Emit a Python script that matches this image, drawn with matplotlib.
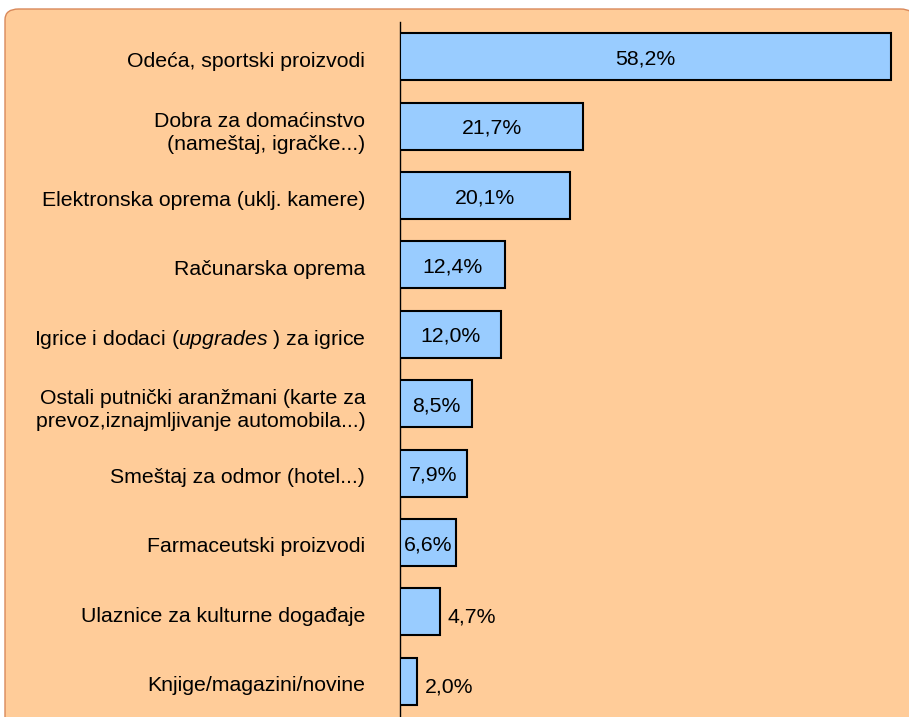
import matplotlib
matplotlib.use("Agg")
import matplotlib.pyplot as plt
from matplotlib.patches import FancyBboxPatch
from matplotlib.transforms import ScaledTranslation

plt.rcParams['font.family'] = ['Liberation Sans', 'DejaVu Sans']
plt.rcParams['mathtext.fontset'] = 'custom'
plt.rcParams['mathtext.rm'] = 'Liberation Sans'
plt.rcParams['mathtext.it'] = 'Liberation Sans:italic'

categories = [
    "Odeća, sportski proizvodi",
    "Dobra za domaćinstvo\n(nameštaj, igračke...)",
    "Elektronska oprema (uklj. kamere)",
    "Računarska oprema",
    r"Igrice i dodaci ($\mathit{upgrades}$ ) za igrice",
    "Ostali putnički aranžmani (karte za\nprevoz,iznajmljivanje automobila...)",
    "Smeštaj za odmor (hotel...)",
    "Farmaceutski proizvodi",
    "Ulaznice za kulturne događaje",
    "Knjige/magazini/novine",
]
values = [58.2, 21.7, 20.1, 12.4, 12.0, 8.5, 7.9, 6.6, 4.7, 2.0]
value_labels = ["58,2%", "21,7%", "20,1%", "12,4%", "12,0%", "8,5%", "7,9%", "6,6%", "4,7%", "2,0%"]

W, H = 909, 717
FS = 15.3
fig = plt.figure(figsize=(W / 100, H / 100), dpi=100)
fig.patch.set_facecolor('white')

bg = FancyBboxPatch((5 / W, -0.05), 1.0, (H - 9) / H + 0.05,
                    boxstyle="round,pad=0,rounding_size=0.015",
                    transform=fig.transFigure, facecolor='#FFCC99',
                    edgecolor='#D9895A', linewidth=1.0, zorder=-10)
fig.patches.append(bg)

ax = fig.add_axes([400 / W, 1 - 716 / H, (906 - 400) / W, (716 - 22) / H])
ax.set_facecolor('none')
ax.set_zorder(5)

ypos = list(range(len(categories)))
ax.barh(ypos, values, height=0.68, color='#99CCFF', edgecolor='black', linewidth=1.5, zorder=3)
ax.set_ylim(len(categories) - 0.5, -0.5)
ax.set_xlim(0, 60)

ax.set_yticks(ypos)
ax.set_yticklabels(categories, fontsize=FS, multialignment='right', linespacing=1.27)
ax.tick_params(axis='y', length=0, pad=25)
shift = ScaledTranslation(0, -2.5 / 100, fig.dpi_scale_trans)
for lbl in ax.get_yticklabels():
    lbl.set_transform(lbl.get_transform() + shift)
ax.set_xticks([])
for s in ['top', 'right', 'bottom']:
    ax.spines[s].set_visible(False)
ax.spines['left'].set_linewidth(1.0)
ax.spines['left'].set_color('black')

for y, v, lab in zip(ypos, values, value_labels):
    if v >= 5:
        ax.text(v / 2, y + 0.03, lab, ha='center', va='center', fontsize=FS, zorder=4)
    else:
        ax.text(v + 0.9, y + 0.08, lab, ha='left', va='center', fontsize=FS, zorder=4)

fig.savefig("out.png", dpi=100, facecolor=fig.get_facecolor())
